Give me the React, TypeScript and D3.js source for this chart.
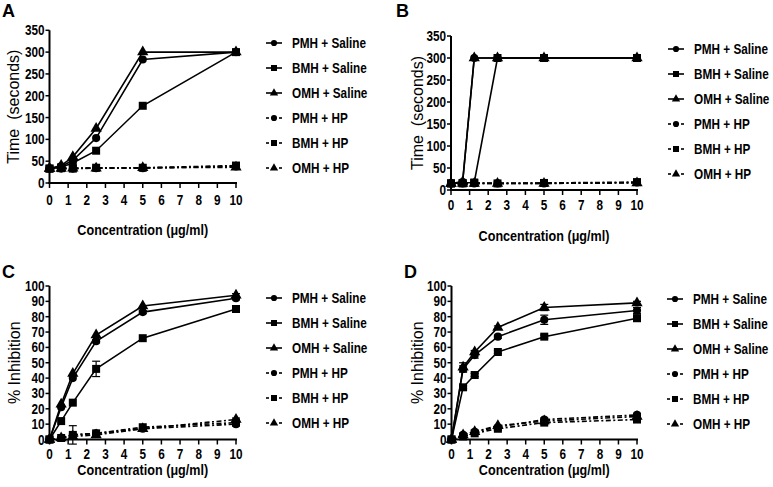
import React from "react";
import * as d3 from "d3";

const concentrations = [0, 0.625, 1.25, 2.5, 5, 10];
const seriesNames = ["PMH + Saline", "BMH + Saline", "OMH + Saline", "PMH + HP", "BMH + HP", "OMH + HP"];
const seriesShapes = ["circle", "square", "triangle", "circle", "square", "triangle"];
const xTicks = [0, 1, 2, 3, 4, 5, 6, 7, 8, 9, 10];
const timeTicks = [0, 50, 100, 150, 200, 250, 300, 350];
const inhibitionTicks = [0, 10, 20, 30, 40, 50, 60, 70, 80, 90, 100];

// Panel A: time (s)
const panelAValues = [
  [33, 38, 52, 103, 283, 300],
  [33, 36, 46, 74, 177, 300],
  [33, 40, 60, 125, 300, 300],
  [33, 33, 33, 34, 34, 38],
  [33, 34, 33, 35, 35, 40],
  [33, 33, 34, 34, 35, 36],
];
// Panel B: time (s)
const panelBValues = [
  [15, 18, 300, 300, 300, 300],
  [15, 16, 17, 300, 300, 300],
  [15, 18, 300, 300, 300, 300],
  [15, 15, 15, 15, 15, 17],
  [15, 15, 16, 15, 16, 18],
  [15, 15, 15, 15, 15, 16],
];
// Panel C: % inhibition
const panelCValues = [
  [0, 21, 40, 64, 83, 92],
  [0, 12, 24, 46, 66, 85],
  [0, 23, 43, 68, 87, 94],
  [0, 1, 3, 4, 7, 10],
  [0, 1, 3, 4, 8, 11],
  [0, 1, 2, 3, 7, 13],
];
const panelCErrors = [
  [0, 0, 0, 1, 1, 1],
  [0, 0, 0, 5, 0, 1],
  [0, 0, 0, 0, 0, 1],
  [0, 0, 6, 0, 0, 1],
  [0, 0, 0, 0, 0, 0],
  [0, 0, 0, 0, 0, 1],
];
// Panel D: % inhibition
const panelDValues = [
  [0, 46, 55, 67, 78, 84],
  [0, 34, 42, 57, 67, 79],
  [0, 47, 57, 73, 86, 89],
  [0, 3, 5, 8, 13, 16],
  [0, 2, 4, 7, 11, 13],
  [0, 3, 5, 9, 12, 15],
];
const panelDErrors = [
  [0, 2, 2, 1, 3, 2],
  [0, 1, 1, 1, 1, 2],
  [0, 3, 1, 1, 2, 1],
  [0, 0, 0, 1, 1, 1],
  [0, 0, 0, 1, 1, 1],
  [0, 0, 0, 0, 0, 0],
];

const SANS = "'Liberation Sans', Arial, sans-serif";
const SQUEEZE = 0.84;

type PanelCfg = {
  label: string;
  labelX: number;
  labelY: number;
  x0: number;
  x1: number;
  yBottom: number;
  yTop: number;
  yMax: number;
  yTicks: number[];
  yTitle: string;
  yTitleX: number;
  values: number[][];
  errors?: number[][];
  legendX: number;
  legendY: number;
  xTickDy: number;
  xTitleY: number;
};

function NText(props: {
  x: number;
  y: number;
  size: number;
  anchor?: "start" | "middle" | "end";
  dy?: string;
  children: React.ReactNode;
}) {
  return (
    <g transform={`translate(${props.x},${props.y}) scale(${SQUEEZE},1)`}>
      <text
        x={0}
        y={0}
        dy={props.dy}
        textAnchor={props.anchor || "start"}
        fontFamily={SANS}
        fontWeight="bold"
        fontSize={props.size}
      >
        {props.children}
      </text>
    </g>
  );
}

function symbolPath(shape: string, size: number) {
  const t = shape === "circle" ? d3.symbolCircle : shape === "square" ? d3.symbolSquare : d3.symbolTriangle;
  return d3.symbol().type(t).size(size)() as string;
}

function Panel({ c }: { c: PanelCfg }) {
  const x = d3.scaleLinear().domain([0, 10]).range([c.x0, c.x1]);
  const y = d3.scaleLinear().domain([0, c.yMax]).range([c.yBottom, c.yTop]);
  const line = d3
    .line<number>()
    .x((_, i) => x(concentrations[i]))
    .y((v) => y(v));
  const order = [3, 4, 5, 0, 1, 2];
  return (
    <g>
      <text x={c.labelX} y={c.labelY} fontFamily={SANS} fontWeight="bold" fontSize={18}>
        {c.label}
      </text>
      {/* axes */}
      <line x1={c.x0} x2={c.x0} y1={y(c.yMax)} y2={c.yBottom + 1} stroke="#000" strokeWidth={2} />
      <line x1={c.x0 - 1} x2={c.x1 + 1} y1={c.yBottom} y2={c.yBottom} stroke="#000" strokeWidth={2} />
      {c.yTicks.map((t) => (
        <g key={"yt" + t}>
          <line x1={c.x0 - 4} x2={c.x0} y1={y(t)} y2={y(t)} stroke="#000" strokeWidth={1.5} />
          <NText x={c.x0 - 5} y={y(t)} dy="0.36em" anchor="end" size={14}>
            {t}
          </NText>
        </g>
      ))}
      {xTicks.map((t) => (
        <g key={"xt" + t}>
          <line x1={x(t)} x2={x(t)} y1={c.yBottom} y2={c.yBottom + 5} stroke="#000" strokeWidth={1.5} />
          <NText x={x(t)} y={c.yBottom + c.xTickDy} anchor="middle" size={14}>
            {t}
          </NText>
        </g>
      ))}
      <NText x={(c.x0 + c.x1) / 2} y={c.xTitleY} anchor="middle" size={15}>
        Concentration (μg/ml)
      </NText>
      <text
        transform={`translate(${c.yTitleX},${(c.yTop + c.yBottom) / 2}) rotate(-90)`}
        textAnchor="middle"
        dy="0.35em"
        fontFamily={SANS}
        fontSize={16}
        style={{ whiteSpace: "pre" }}
      >
        {c.yTitle}
      </text>
      {/* series */}
      {order.map((si) => {
        const vals = c.values[si];
        const hp = si >= 3;
        return (
          <g key={"s" + si}>
            <path
              d={line(vals) as string}
              fill="none"
              stroke="#000"
              strokeWidth={1.6}
              strokeDasharray={hp ? "5,2.5,2,2.5" : undefined}
            />
            {c.errors &&
              vals.map((v, i) => {
                const e = c.errors![si][i];
                if (!e) return null;
                const cx = x(concentrations[i]);
                return (
                  <g key={"e" + i} stroke="#000" strokeWidth={1.2}>
                    <line x1={cx} x2={cx} y1={y(v - e)} y2={y(v + e)} />
                    <line x1={cx - 4} x2={cx + 4} y1={y(v - e)} y2={y(v - e)} />
                    <line x1={cx - 4} x2={cx + 4} y1={y(v + e)} y2={y(v + e)} />
                  </g>
                );
              })}
            {vals.map((v, i) => (
              <path
                key={"m" + i}
                transform={`translate(${x(concentrations[i])},${y(v)})`}
                d={symbolPath(seriesShapes[si], seriesShapes[si] === "square" ? 64 : seriesShapes[si] === "circle" ? 52 : 55)}
                fill="#000"
              />
            ))}
          </g>
        );
      })}
      {/* legend */}
      {seriesNames.map((n, i) => {
        const ly = c.legendY + i * 25;
        const hp = i >= 3;
        return (
          <g key={"l" + i}>
            {hp ? (
              <g stroke="#000" strokeWidth={1.6}>
                <line x1={c.legendX} x2={c.legendX + 3} y1={ly} y2={ly} />
                <line x1={c.legendX + 13} x2={c.legendX + 16} y1={ly} y2={ly} />
              </g>
            ) : (
              <line x1={c.legendX} x2={c.legendX + 16} y1={ly} y2={ly} stroke="#000" strokeWidth={1.6} />
            )}
            <path
              transform={`translate(${c.legendX + 8},${ly})`}
              d={symbolPath(seriesShapes[i], seriesShapes[i] === "square" ? 36 : 30)}
              fill="#000"
            />
            <NText x={c.legendX + 26} y={ly} dy="0.36em" size={14}>
              {n}
            </NText>
          </g>
        );
      })}
    </g>
  );
}

const panels: PanelCfg[] = [
  {
    label: "A", labelX: 2, labelY: 17, x0: 49.5, x1: 236, yBottom: 183, yTop: 30.3, yMax: 350,
    yTicks: timeTicks, yTitle: "Time  (seconds)", yTitleX: 13, values: panelAValues,
    legendX: 266, legendY: 43, xTickDy: 22, xTitleY: 235,
  },
  {
    label: "B", labelX: 396, labelY: 17, x0: 451, x1: 637, yBottom: 190, yTop: 36, yMax: 350,
    yTicks: timeTicks, yTitle: "Time  (seconds)", yTitleX: 417, values: panelBValues,
    legendX: 668, legendY: 49, xTickDy: 20, xTitleY: 241,
  },
  {
    label: "C", labelX: 2, labelY: 278, x0: 49.5, x1: 236, yBottom: 439.5, yTop: 286, yMax: 100,
    yTicks: inhibitionTicks, yTitle: "% Inhibition", yTitleX: 14, values: panelCValues, errors: panelCErrors,
    legendX: 266, legendY: 298, xTickDy: 19, xTitleY: 475,
  },
  {
    label: "D", labelX: 404, labelY: 278, x0: 451.5, x1: 637, yBottom: 439.5, yTop: 286, yMax: 100,
    yTicks: inhibitionTicks, yTitle: "% Inhibition", yTitleX: 417, values: panelDValues, errors: panelDErrors,
    legendX: 667, legendY: 299, xTickDy: 19, xTitleY: 475,
  },
];

export default function App() {
  return (
    <svg
      width={773}
      height={487}
      style={{ position: "absolute", left: 0, top: 0, background: "#fff" }}
    >
      <rect width={773} height={487} fill="#fff" />
      {panels.map((p) => (
        <Panel key={p.label} c={p} />
      ))}
    </svg>
  );
}
